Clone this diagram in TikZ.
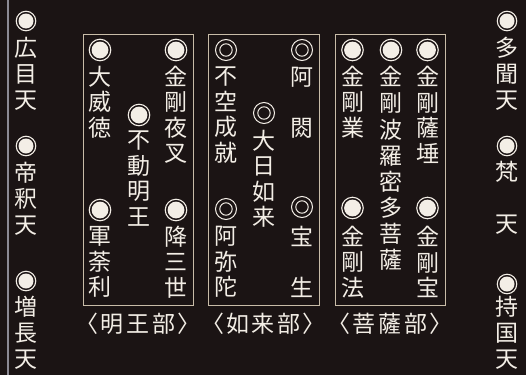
\documentclass[tikz,border=0pt]{standalone}
\usepackage{fontspec}
\newfontfamily\cjk{Noto Sans CJK JP}
\definecolor{bg}{HTML}{1B1414}
\definecolor{txt}{HTML}{F3EEE6}
\definecolor{frame}{HTML}{C8BCA8}
\definecolor{rule}{HTML}{8C8A94}
\tikzset{
  col/.style={text=txt, font=\cjk\fontsize{23}{25.5}\selectfont, align=center, inner sep=0pt},
  ocol/.style={col, font=\cjk\fontsize{23}{26}\selectfont},
  mk/.style={circle, draw=txt, line width=1.1pt, minimum size=21.5pt, inner sep=0pt,
    path picture={\fill[txt] (path picture bounding box.center) circle (8.4pt);}},
  omk/.style={mk, minimum size=19.5pt,
    path picture={\fill[txt] (path picture bounding box.center) circle (7.5pt);}},
  dmk/.style={circle, draw=txt, line width=1pt, minimum size=21pt, inner sep=0pt,
    path picture={\draw[txt, line width=1pt] (path picture bounding box.center) circle (6.2pt);}},
  grp/.style={draw=frame, line width=0.9pt, minimum width=110pt, minimum height=271pt, inner sep=0pt},
  lab/.style={text=txt, font=\cjk\fontsize{23}{26}\selectfont, inner sep=0pt}
}
\newcommand{\lsp}{\hspace{2.5pt}}
\begin{document}
\begin{tikzpicture}[x=1pt,y=-1pt]
\useasboundingbox (0,0) rectangle (526,375);
\fill[bg] (0,0) rectangle (526,375);
% left rule
\coordinate (r1) at (8,0);
\coordinate (r2) at (8,375);
\draw[rule, line width=1.2pt] (r1) -- (r2);
% outer left
\node[omk] (l1m) at (26,21) {};
\node[ocol] (l1) at (26,74) {広\\目\\天};
\node[omk] (l2m) at (26,146) {};
\node[ocol] (l2) at (26,198.5) {帝\\釈\\天};
\node[omk] (l3m) at (26,281) {};
\node[ocol] (l3) at (26,332.5) {増\\長\\天};
% outer right
\node[omk] (r1m) at (507,21) {};
\node[ocol] (rr1) at (507,74) {多\\聞\\天};
\node[omk] (r2m) at (507,146) {};
\node[ocol] (rr2) at (507,197.5) {梵\\　\\天};
\node[omk] (r3m) at (507,284) {};
\node[ocol] (rr3) at (507,333) {持\\国\\天};
% boxes
\node[grp] (b1) at (138,169.5) {};
\node[grp, minimum width=111pt] (b2) at (263.5,169.5) {};
\node[grp] (b3) at (390,169.5) {};
% box 1
\node[mk] (a1m) at (176,50) {};
\node[col] (a1) at (176,115) {金\\剛\\夜\\叉};
\node[mk] (a2m) at (176,210) {};
\node[col] (a2) at (176,262) {降\\三\\世};
\node[mk] (a3m) at (100,50) {};
\node[col] (a3) at (100,102) {大\\威\\徳};
\node[mk] (a4m) at (100,210) {};
\node[col] (a4) at (100,262) {軍\\荼\\利};
\node[mk] (a5m) at (139,115) {};
\node[col] (a5) at (139,178.5) {不\\動\\明\\王};
% box 2
\node[dmk] (c1m) at (302,50) {};
\node[col] (c1) at (302,102.5) {阿\\　\\閦};
\node[dmk] (c2m) at (302,207) {};
\node[col] (c2) at (302,262) {宝\\　\\生};
\node[dmk] (c3m) at (226,50) {};
\node[col] (c3) at (226,115) {不\\空\\成\\就};
\node[dmk] (c4m) at (226,209) {};
\node[col] (c4) at (226,262) {阿\\弥\\陀};
\node[dmk] (c5m) at (264,113) {};
\node[col] (c5) at (264,179) {大\\日\\如\\来};
% box 3
\node[mk] (d1m) at (427.5,50) {};
\node[col] (d1) at (427.5,115) {金\\剛\\薩\\埵};
\node[mk] (d2m) at (427.5,208) {};
\node[col] (d2) at (427.5,262) {金\\剛\\宝};
\node[mk] (d3m) at (391,50) {};
\node[col, font=\cjk\fontsize{23}{26.1}\selectfont] (d3) at (391,168.5) {金\\剛\\波\\羅\\密\\多\\菩\\薩};
\node[mk] (d4m) at (352.5,50) {};
\node[col] (d4) at (352.5,102) {金\\剛\\業};
\node[mk] (d5m) at (352.5,208) {};
\node[col] (d5) at (352.5,262) {金\\剛\\法};
% labels
\node[lab] (t1) at (138,323.5) {〈\lsp 明\lsp 王\lsp 部\lsp 〉};
\node[lab] (t2) at (263.5,323.5) {〈\lsp 如\lsp 来\lsp 部\lsp 〉};
\node[lab] (t3) at (390,323.5) {〈\lsp 菩\lsp 薩\lsp 部\lsp 〉};
\end{tikzpicture}
\end{document}
